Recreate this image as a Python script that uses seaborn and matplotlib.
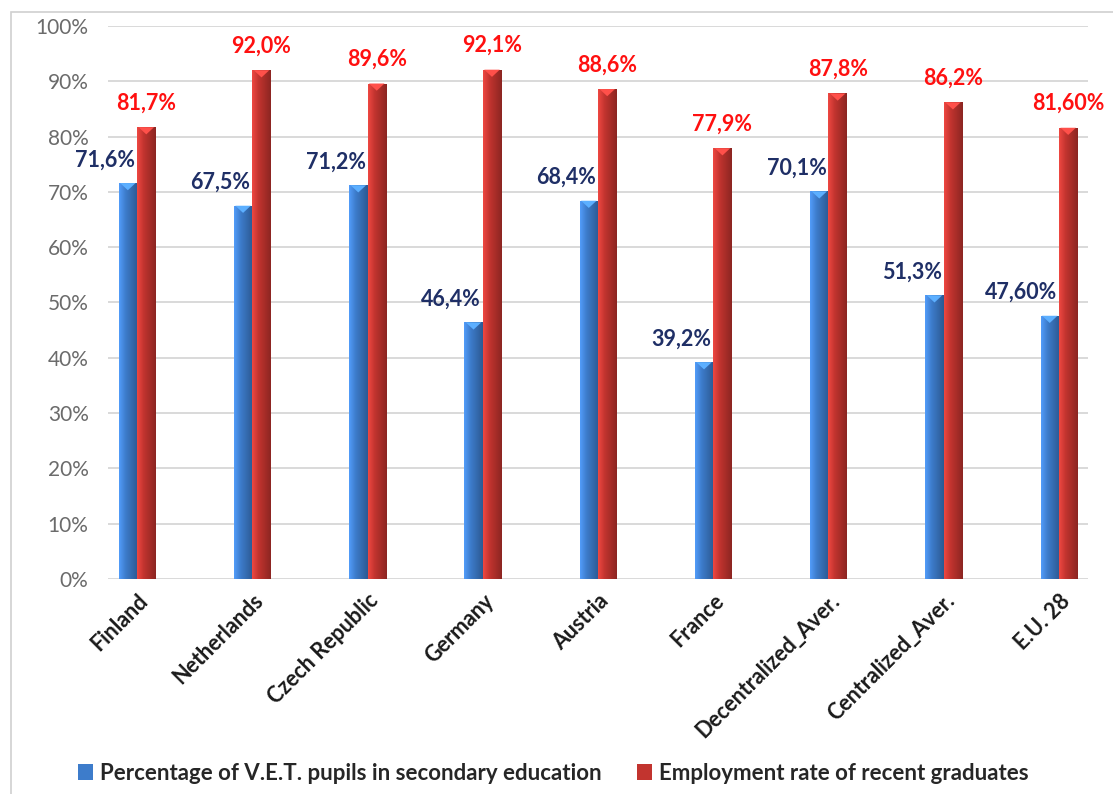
import numpy as np
import pandas as pd
import matplotlib
matplotlib.use("Agg")
import matplotlib.pyplot as plt
from matplotlib.patches import Rectangle, Polygon
import seaborn as sns

# ---- data ----
countries = ["Finland", "Netherlands", "Czech Republic", "Germany", "Austria",
             "France", "Decentralized_Aver.", "Centralized_Aver.", "E.U. 28"]
vet_share = [71.6, 67.5, 71.2, 46.4, 68.4, 39.2, 70.1, 51.3, 47.60]
employment = [81.7, 92.0, 89.6, 92.1, 88.6, 77.9, 87.8, 86.2, 81.60]
decimals = [1, 1, 1, 1, 1, 1, 1, 1, 2]
series_names = ["Percentage of V.E.T. pupils in secondary education",
                "Employment rate of recent graduates"]
y_ticks = [0, 10, 20, 30, 40, 50, 60, 70, 80, 90, 100]

blue = "#3D7CCB"
red = "#C2342F"
palette = {series_names[0]: blue, series_names[1]: red}

df = pd.DataFrame({
    "country": countries * 2,
    "series": [series_names[0]] * len(countries) + [series_names[1]] * len(countries),
    "value": vet_share + employment,
})

sns.set_theme(style="white")
plt.rcParams["font.family"] = ["Lato", "DejaVu Sans"]

fig = plt.figure(figsize=(11.13, 7.94), dpi=100)
ax = fig.add_axes([108 / 1113, 1 - 579 / 794, (1088 - 108) / 1113, (579 - 26) / 794])

sns.barplot(data=df, x="country", y="value", hue="series", palette=palette,
            width=0.32, dodge=True, saturation=1, ax=ax, legend=True,
            edgecolor="none", linewidth=0, zorder=2)

ax.set_xlim(-0.252, 8.252)
ax.set_ylim(0, 100)
ax.set_yticks(y_ticks)
ax.set_yticklabels([f"{t}%" for t in y_ticks], color="#6b6b6b", fontsize=15)
ax.grid(axis="y", color="#D9D9D9", linewidth=1.4, zorder=0)
ax.grid(axis="x", visible=False)
ax.tick_params(axis="y", length=0, pad=14)
ax.tick_params(axis="x", length=0, pad=8)
for s in ax.spines.values():
    s.set_visible(False)
ax.set_xlabel("")
ax.set_ylabel("")
ax.set_xticks(range(len(countries)))
ax.set_xticklabels(countries, rotation=45, ha="right", va="top",
                   rotation_mode="anchor", fontsize=15.5, fontweight="bold",
                   color="#1a1a1a")

# cylinder-like shading on each bar
bars = [p for p in ax.patches if isinstance(p, Rectangle) and p.get_height() > 0]
for p in bars:
    x0, w, h = p.get_x(), p.get_width(), p.get_height()
    base = np.array(matplotlib.colors.to_rgb(p.get_facecolor()))
    light = np.clip(base * 1.18 + 0.04, 0, 1)
    dark = base * 0.72
    grad = np.zeros((1, 64, 3))
    for k, t in enumerate(np.linspace(0, 1, 64)):
        if t < 0.35:
            c = light * (1 - t / 0.35) + base * (t / 0.35)
        else:
            u = (t - 0.35) / 0.65
            c = base * (1 - u) + dark * u
        grad[0, k] = c
    im = ax.imshow(grad, extent=(x0, x0 + w, 0, h), aspect="auto",
                   zorder=2.5, interpolation="bilinear")
    im.set_clip_path(p)
    # small bevel at the top of the bar
    cap = Polygon([(x0 + w * 0.08, h), (x0 + w * 0.92, h), (x0 + w * 0.5, h - 1.3)],
                  closed=True, facecolor=np.clip(light * 1.12, 0, 1),
                  edgecolor="none", zorder=2.6)
    ax.add_patch(cap)

ax.set_xlim(-0.252, 8.252)
ax.set_ylim(0, 100)

# value labels
bw = 0.16
for i, (v, e, d) in enumerate(zip(vet_share, employment, decimals)):
    vt = f"{v:.{d}f}".replace(".", ",") + "%"
    et = f"{e:.{d}f}".replace(".", ",") + "%"
    ax.text(i - 0.015, v + 4.2, vt, ha="right", va="center", fontsize=15.5,
            fontweight="bold", color="#1F2F66", zorder=5)
    ax.text(i + bw / 2, e + 4.4, et, ha="center", va="center", fontsize=15.5,
            fontweight="bold", color="#FF1010", zorder=5)

# legend
handles, labels = ax.get_legend_handles_labels()
ax.get_legend().remove()
fig.legend(handles, labels, loc="center", bbox_to_anchor=(0.497, 1 - 773 / 794),
           ncol=2, frameon=False, prop={"weight": "bold", "size": 16},
           handlelength=0.7, handleheight=0.7, handletextpad=0.3,
           columnspacing=1.6)

# light frame around the chart area
fig.add_artist(Rectangle((11 / 1113, -0.01), 1.02, 1 - 12 / 794 + 0.01,
                         transform=fig.transFigure, fill=False,
                         edgecolor="#D0D0D0", linewidth=1.2))

fig.savefig("out.png", dpi=100)
